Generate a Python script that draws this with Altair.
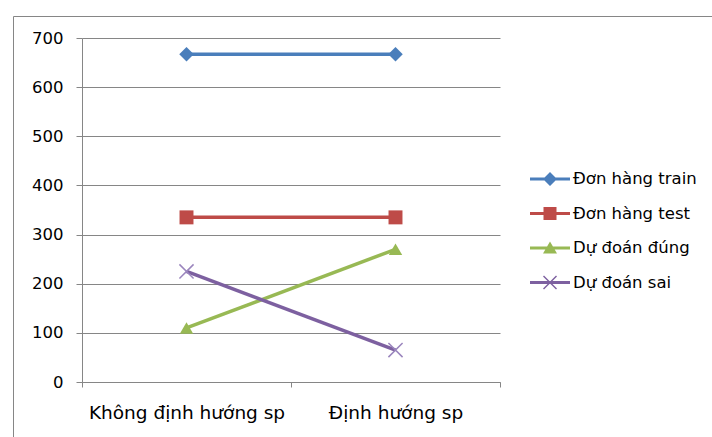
import altair as alt
import pandas as pd

# Chart data
categories = ["Không định hướng sp", "Định hướng sp"]
series_names = ["Đơn hàng train", "Đơn hàng test", "Dự đoán đúng", "Dự đoán sai"]
train_orders = [667, 667]
test_orders = [335, 335]
correct_predictions = [110, 270]
wrong_predictions = [225, 65]

colors = ["#4a7ebb", "#be4b48", "#98b954", "#7d60a0"]
cross_color = "#9a85bd"
grid_color = "#868686"
font = "DejaVu Sans"

rows = []
for name, values in zip(series_names,
                        [train_orders, test_orders, correct_predictions, wrong_predictions]):
    for cat, v in zip(categories, values):
        rows.append({"series": name, "category": cat, "value": v})
df = pd.DataFrame(rows)

x_enc = alt.X(
    "category:N",
    sort=categories,
    scale=alt.Scale(type="band", paddingInner=0, paddingOuter=0),
    axis=alt.Axis(
        title=None, labelAngle=0, tickBand="extent", tickSize=5, labelPadding=16,
        labelLimit=0, labelFont=font, labelFontSize=18.5, labelColor="#000000",
        domainColor=grid_color, tickColor=grid_color, grid=False,
    ),
)
y_enc = alt.Y(
    "value:Q",
    scale=alt.Scale(domain=[0, 700], nice=False, zero=True),
    axis=alt.Axis(
        title=None, values=list(range(0, 701, 100)), tickSize=6, labelPadding=13,
        labelFont=font, labelFontSize=16.5, labelColor="#000000",
        domainColor=grid_color, tickColor=grid_color,
        gridColor=grid_color, gridOpacity=1, gridWidth=1,
    ),
)
color_scale = alt.Scale(domain=series_names, range=colors)

# Outer chart-area frame
frame = alt.Chart(pd.DataFrame({"k": [0]})).mark_rect(
    fillOpacity=0, stroke=grid_color, strokeWidth=1
).encode(
    x=alt.value(-68.5), x2=alt.value(650), y=alt.value(-21.5), y2=alt.value(420)
)

lines = alt.Chart(df).mark_line(strokeWidth=3.5).encode(
    x=x_enc, y=y_enc,
    color=alt.Color("series:N", scale=color_scale, legend=None),
)

filled_series = series_names[:3]
filled_points = alt.Chart(df).transform_filter(
    alt.FieldOneOfPredicate(field="series", oneOf=filled_series)
).mark_point(filled=True, opacity=1).encode(
    x=x_enc, y=y_enc,
    color=alt.Color("series:N", scale=color_scale, legend=None),
    shape=alt.Shape("series:N", scale=alt.Scale(domain=filled_series,
                                                  range=["diamond", "square", "triangle-up"]),
                    legend=None),
    size=alt.Size("series:N", scale=alt.Scale(domain=filled_series, range=[210, 180, 300]),
                  legend=None),
)

cross_path = "M-1,-1L1,1M-1,1L1,-1"
cross_points = alt.Chart(df).transform_filter(
    alt.datum.series == series_names[3]
).mark_point(shape=cross_path, filled=False, stroke=cross_color, strokeWidth=1.5,
             size=200, opacity=1).encode(x=x_enc, y=y_enc)

# Legend symbols: a line stub with the series marker in the middle
stub = "M-2,-0.15H2V0.15H-2Z"
legend_paths = [
    stub + "M-0.7,0L0,-0.7L0.7,0L0,0.7Z",
    stub + "M-0.65,-0.65H0.65V0.65H-0.65Z",
    stub + "M0,-0.65L0.7,0.55L-0.7,0.55Z",
    stub + "M-0.7,-0.6L-0.6,-0.7L0.7,0.6L0.6,0.7Z" + "M0.6,-0.7L0.7,-0.6L-0.6,0.7L-0.7,0.6Z",
]
legend_cfg = dict(
    orient="none", legendX=458, legendY=131, title=None, padding=0,
    symbolSize=400, labelOffset=13, rowPadding=15.5,
    labelFont=font, labelFontSize=16.5, labelColor="#000000",
    symbolStrokeWidth=0, symbolOpacity=1,
)
legend_layer = alt.Chart(df).transform_filter("false").mark_point(
    filled=True, opacity=1
).encode(
    color=alt.Color("series:N", scale=color_scale, legend=alt.Legend(**legend_cfg)),
    shape=alt.Shape("series:N", scale=alt.Scale(domain=series_names, range=legend_paths),
                    legend=alt.Legend(**legend_cfg)),
)

chart = alt.layer(frame, lines, filled_points, cross_points, legend_layer).resolve_scale(
    color="independent", shape="independent", size="independent"
).resolve_legend(
    color="independent", shape="independent", size="independent"
).properties(
    width=418, height=344,
    autosize=alt.AutoSizeParams(type="none"),
    padding={"left": 82, "top": 38, "right": 212, "bottom": 55},
    background="#ffffff",
).configure_view(stroke=None)

chart.save("out.html", embed_options={"renderer": "svg", "actions": False})
